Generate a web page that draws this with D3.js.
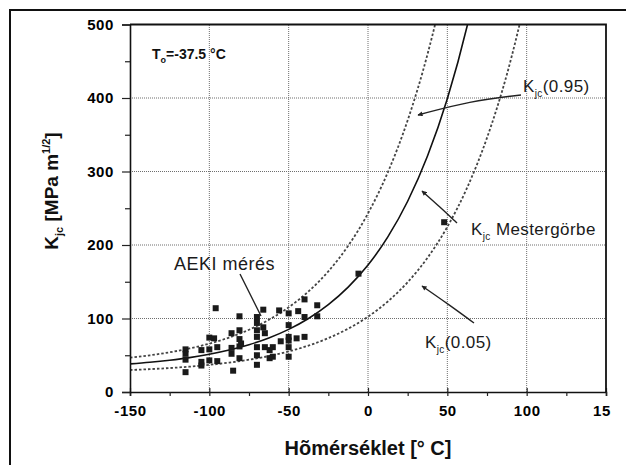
<!DOCTYPE html>
<html>
<head>
<meta charset="utf-8">
<script src="https://cdn.jsdelivr.net/npm/d3@7"></script>
<style>
  body { margin: 0; background: #fff; }
  svg { display: block; font-family: "Liberation Sans", Arial, sans-serif; }
</style>
</head>
<body>
<div id="chart"></div>
<script>
const width = 626;
const height = 465;

// tengelyek
const tempTicks = [-150, -100, -50, 0, 50, 100, 150];
const tempMinor = [-125, -75, -25, 25, 75, 125];
const kTicks = [0, 100, 200, 300, 400, 500];
const kMinor = [50, 150, 250, 350, 450];

// görbék (leolvasva)
const curveT = [-150, -137.5, -125, -112.5, -100, -87.5, -75, -62.5, -50, -37.5, -25, -12.5, 0, 12.5, 25, 37.5, 50, 62.5, 75, 87.5, 100];
const kMedian = [38.3, 40.5, 43.3, 46.8, 51.4, 57.1, 64.3, 73.5, 85.2, 100, 118.8, 142.6, 172.7, 211.0, 259.5, 321.1, 399.0, 498.0, 623.4, 782, 984];
const k05 = [29.9, 31.1, 32.6, 34.5, 36.9, 40.0, 43.9, 48.9, 55.2, 63.2, 73.3, 86.2, 102.5, 123.2, 149.4, 182.6, 224.7, 278.1, 345.8, 431.8, 540.6];
const k95 = [46.7, 49.9, 54.0, 59.2, 65.8, 74.1, 84.7, 98.2, 115.2, 136.8, 164.2, 198.9, 243.0, 298.9, 369.7, 459.5, 573.4, 718, 901, 1133, 1427];

// AEKI mérés
const measT = [-115, -115, -115, -115, -105, -105, -105, -100, -100, -100, -97, -95, -95, -96,
  -86, -86, -86, -85, -81, -81, -81, -81, -81, -80,
  -70, -70, -70, -70, -70, -70, -70, -66, -66, -65, -65, -62, -62, -60, -60, -56, -55,
  -50, -50, -50, -50, -50, -50, -45, -44, -40, -40, -40, -32, -32, -6, 48];
const measK = [58, 52, 44, 27, 57, 41, 36, 74, 58, 43, 73, 61, 42, 114,
  80, 60, 52, 29, 103, 84, 72, 62, 46, 66,
  102, 94, 84, 75, 61, 50, 37, 112, 88, 80, 61, 57, 46, 61, 48, 111, 69,
  107, 91, 75, 70, 61, 48, 73, 110, 75, 126, 102, 118, 103, 161, 231];

const svg = d3.select("#chart")
  .append("svg")
  .attr("width", width)
  .attr("height", height);

// keret
svg.append("path")
  .attr("d", "M10,466V10H626")
  .attr("fill", "none")
  .attr("stroke", "#111")
  .attr("stroke-width", 2);

const x = d3.scaleLinear().domain([-150, 150]).range([130, 606]);
const y = d3.scaleLinear().domain([0, 500]).range([392, 24.5]);

svg.append("defs").append("clipPath")
  .attr("id", "plot")
  .append("rect")
  .attr("x", x(-150)).attr("y", y(500))
  .attr("width", x(150) - x(-150)).attr("height", y(0) - y(500));

svg.select("defs").append("clipPath")
  .attr("id", "labels")
  .append("rect")
  .attr("x", 0).attr("y", -50).attr("width", 611).attr("height", 150);

svg.select("defs").append("marker")
  .attr("id", "arrow")
  .attr("viewBox", "0 -5 10 10")
  .attr("refX", 9)
  .attr("refY", 0)
  .attr("markerWidth", 7)
  .attr("markerHeight", 5)
  .attr("markerUnits", "userSpaceOnUse")
  .attr("orient", "auto")
  .append("path")
  .attr("d", "M0,-5L10,0L0,5Z")
  .attr("fill", "#222");

// rács
const grid = svg.append("g").attr("stroke", "#6e6e6e").attr("stroke-width", 1).attr("stroke-dasharray", "1,1");
grid.selectAll(".gx")
  .data(tempTicks.slice(1, -1))
  .enter().append("line")
  .attr("x1", d => x(d)).attr("x2", d => x(d))
  .attr("y1", y(0)).attr("y2", y(500));
grid.selectAll(".gy")
  .data(kTicks.slice(1, -1))
  .enter().append("line")
  .attr("x1", x(-150)).attr("x2", x(150))
  .attr("y1", d => y(d)).attr("y2", d => y(d));

// görbék
const plot = svg.append("g").attr("clip-path", "url(#plot)");
const line = vals => d3.line()
  .x((d, i) => x(curveT[i]))
  .y(d => y(d))
  .curve(d3.curveMonotoneX)(vals);

plot.append("path").attr("d", line(k95))
  .attr("fill", "none").attr("stroke", "#444").attr("stroke-width", 1.8).attr("stroke-dasharray", "2.5,2");
plot.append("path").attr("d", line(k05))
  .attr("fill", "none").attr("stroke", "#444").attr("stroke-width", 1.8).attr("stroke-dasharray", "2.5,2");
plot.append("path").attr("d", line(kMedian))
  .attr("fill", "none").attr("stroke", "#111").attr("stroke-width", 1.6);

// mérési pontok
plot.selectAll(".pt")
  .data(measT)
  .enter().append("rect")
  .attr("x", (d, i) => x(d) - 3)
  .attr("y", (d, i) => y(measK[i]) - 3)
  .attr("width", 6).attr("height", 6)
  .attr("fill", "#1a1a1a");

// tengelyek
const xAxis = svg.append("g").attr("transform", `translate(0,${y(0)})`)
  .attr("clip-path", "url(#labels)")
  .call(d3.axisBottom(x).tickValues(tempTicks).tickSize(4).tickPadding(9).tickFormat(d => String(d)));
xAxis.selectAll(".tick line").attr("y1", -4);
svg.append("g").attr("transform", `translate(0,${y(0)})`)
  .call(d3.axisBottom(x).tickValues(tempMinor).tickSize(4).tickFormat(""))
  .select(".domain").remove();

const yAxis = svg.append("g").attr("transform", `translate(${x(-150)},0)`)
  .call(d3.axisLeft(y).tickValues(kTicks).tickSize(8).tickPadding(8).tickFormat(d => String(d)));
svg.append("g").attr("transform", `translate(${x(-150)},0)`)
  .call(d3.axisLeft(y).tickValues(kMinor).tickSize(5).tickFormat(""))
  .select(".domain").remove();

svg.selectAll(".domain").attr("stroke", "#111").attr("stroke-width", 1.6);
svg.selectAll(".tick line").attr("stroke", "#222").attr("stroke-width", 1.2);
svg.selectAll(".tick text")
  .style("font-family", "'Liberation Sans', Arial, sans-serif")
  .style("font-size", "15px").style("font-weight", "bold")
  .attr("fill", "#000")
  .attr("letter-spacing", 0.6);

// felső és jobb oldali keret
svg.append("path")
  .attr("d", `M${x(-150)},${y(500)}H${x(150)}V${y(0)}`)
  .attr("fill", "none").attr("stroke", "#111").attr("stroke-width", 1.8);

// tengelyfeliratok
svg.append("text")
  .attr("x", (x(-150) + x(150)) / 2).attr("y", 455)
  .attr("text-anchor", "middle")
  .attr("font-size", 20).attr("font-weight", "bold").attr("fill", "#111")
  .text("Hõmérséklet [° C]");

const yl = svg.append("text")
  .attr("transform", "translate(58,191) rotate(-90)")
  .attr("text-anchor", "middle")
  .attr("font-size", 19).attr("font-weight", "bold").attr("fill", "#111");
yl.append("tspan").text("K");
yl.append("tspan").attr("dy", 5).attr("font-size", 11).text("jc");
yl.append("tspan").attr("dy", -5).text(" [MPa m");
yl.append("tspan").attr("dy", -8).attr("font-size", 11).text("1/2");
yl.append("tspan").attr("dy", 8).text("]");

// T0
const t0 = svg.append("text").attr("x", 152).attr("y", 59)
  .attr("font-size", 14).attr("font-weight", "bold").attr("fill", "#111");
t0.append("tspan").text("T");
t0.append("tspan").attr("dy", 4).attr("font-size", 9).text("o");
t0.append("tspan").attr("dy", -4).text("=-37.5 °C");

// feliratok nyilakkal
function kLabel(px, py, rest) {
  const t = svg.append("text").attr("x", px).attr("y", py)
    .attr("font-size", 17).attr("fill", "#1a1a1a").attr("letter-spacing", 0.4);
  t.append("tspan").text("K");
  t.append("tspan").attr("dy", 5).attr("font-size", 10).attr("fill", "#1a1a1a").text("jc");
  t.append("tspan").attr("dy", -5).text(rest);
}
kLabel(523, 92, "(0.95)");
kLabel(471, 235, " Mestergörbe");
kLabel(425, 348, "(0.05)");

svg.append("text").attr("x", 174).attr("y", 270)
  .attr("font-size", 18).attr("fill", "#1a1a1a").attr("letter-spacing", 0.5)
  .text("AEKI mérés");

const arrows = [
  [[521, 95], [470, 101], [418, 115]],
  [[457, 223], [440, 207], [422, 191]],
  [[474, 323], [448, 304], [422, 286]]
];
arrows.forEach(a => {
  svg.append("path")
    .attr("d", d3.line().curve(d3.curveBasis)(a))
    .attr("fill", "none").attr("stroke", "#222").attr("stroke-width", 1.4)
    .attr("marker-end", "url(#arrow)");
});
svg.append("line")
  .attr("x1", 240).attr("y1", 274).attr("x2", 261).attr("y2", 316)
  .attr("stroke", "#222").attr("stroke-width", 1.4);
</script>
</body>
</html>
